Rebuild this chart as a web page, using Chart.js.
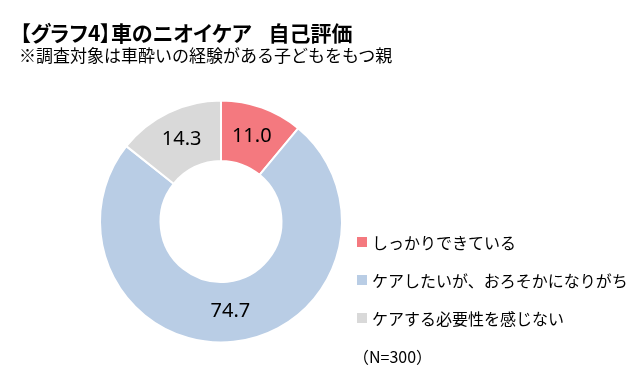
<!DOCTYPE html>
<html lang="ja">
<head>
<meta charset="utf-8">
<script src="https://cdn.jsdelivr.net/npm/chart.js@4"></script>
<style>
  body { margin: 0; background: #fff; font-family: "Noto Sans CJK JP", sans-serif; }
  #wrap { position: relative; width: 640px; height: 389px; overflow: hidden; }
  #chart { position: absolute; left: 0; top: 0; }
  .title { position: absolute; left: 20px; top: 20px; font-size: 21px; font-weight: bold; line-height: 24px; white-space: pre; color: #000; font-feature-settings: "palt"; }
  .title .tail { margin-left: 17px; }
  .sub { position: absolute; left: 19px; top: 44px; font-size: 17px; line-height: 22px; color: #000; }
  .legend { position: absolute; left: 357px; top: 230px; font-size: 16px; color: #000; }
  .legend .row { display: flex; align-items: center; height: 24px; margin-bottom: 14px; }
  .legend .box { width: 10px; height: 10px; margin-right: 5px; }
  .note { position: absolute; left: 353px; top: 344px; font-size: 16px; line-height: 24px; }
</style>
</head>
<body>
<div id="wrap">
  <canvas id="chart" width="640" height="389"></canvas>
  <div class="title">【グラフ4】車のニオイケア<span class="tail">自己評価</span></div>
  <div class="sub">※調査対象は車酔いの経験がある子どもをもつ親</div>
  <div class="legend" id="legend"></div>
  <div class="note">（N=300）</div>
</div>
<script>
const categories = ['しっかりできている', 'ケアしたいが、おろそかになりがち', 'ケアする必要性を感じない'];
const values = [11.0, 74.7, 14.3];
const colors = ['#F4797F', '#B9CDE5', '#D9D9D9'];

// legend as html
const legendEl = document.getElementById('legend');
categories.forEach((c, i) => {
    const row = document.createElement('div');
    row.className = 'row';
    row.innerHTML = `<span class="box" style="background:${colors[i]}"></span><span>${c}</span>`;
    legendEl.appendChild(row);
});

// value labels in the middle of each slice
const sliceLabels = {
    id: 'sliceLabels',
    afterDatasetsDraw(chart) {
        const ctx = chart.ctx;
        const meta = chart.getDatasetMeta(0);
        ctx.save();
        ctx.font = '20px "Noto Sans", sans-serif';
        ctx.fillStyle = '#000';
        ctx.textAlign = 'center';
        ctx.textBaseline = 'middle';
        meta.data.forEach((arc, i) => {
            const p = arc.tooltipPosition();
            ctx.fillText(values[i].toFixed(1), p.x, p.y);
        });
        ctx.restore();
    }
};

const ctx = document.getElementById('chart').getContext('2d');
new Chart(ctx, {
    type: 'doughnut',
    data: {
        labels: categories,
        datasets: [{
            data: values,
            backgroundColor: colors,
            borderColor: '#fff',
            borderWidth: 2
        }]
    },
    options: {
        responsive: false,
        animation: false,
        cutout: '50%',
        layout: {
            padding: { left: 99, right: 297, top: 99, bottom: 45 }
        },
        plugins: {
            legend: { display: false },
            tooltip: { enabled: false }
        }
    },
    plugins: [sliceLabels]
});
</script>
</body>
</html>
